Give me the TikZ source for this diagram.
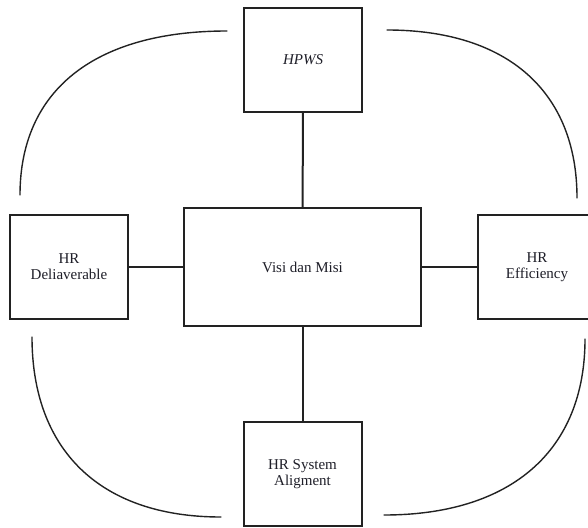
\documentclass[tikz,border=0pt]{standalone}
\usepackage{fontspec}
\setmainfont{Liberation Serif}
\usetikzlibrary{positioning}
\definecolor{hrInk}{HTML}{1E1E28}
\definecolor{hrLine}{HTML}{222222}
\tikzset{
  unit/.style={
    draw=hrLine, line width=2pt, fill=white, inner sep=3pt,
    align=center, text=hrInk, font=\fontsize{15}{16}\selectfont,
    minimum width=118pt, minimum height=104pt
  },
  core/.style={unit, minimum width=237pt, minimum height=118pt},
  link/.style={line width=2pt, draw=hrLine},
  loop/.style={line width=1.4pt, draw=hrLine, line cap=round},
}

\begin{document}
\begin{tikzpicture}[x=1pt, y=-1pt]
  \useasboundingbox (0,0) rectangle (588,527);
  \clip (0,0) rectangle (588,527);

  \node[unit] (hpws)  at (303,60)  {\textit{HPWS}};
  \node[core] (visi)  at (302.5,267) {Visi dan Misi};
  \node[unit] (deliv) at (69,267)  {HR\\Deliaverable};
  \node[unit] (effic) at (537,267) {HR\\Efficiency};
  \node[unit] (align) at (302.5,474) {HR System\\Aligment};

  \draw[link] (hpws)  -- (visi);
  \draw[link] (deliv) -- (visi);
  \draw[link] (visi)  -- (effic);
  \draw[link] (visi)  -- (align);

  % outer loop
  \coordinate (tl1) at (227,31);  \coordinate (tl2) at (20,195);
  \coordinate (tr1) at (387,30);  \coordinate (tr2) at (577,198);
  \coordinate (bl1) at (32,337);  \coordinate (bl2) at (221,517);
  \coordinate (br1) at (585,339); \coordinate (br2) at (384,515);
  \draw[loop] (tl1) .. controls (95,31) and (20,90) .. (tl2);
  \draw[loop] (tr1) .. controls (508,30) and (577,92) .. (tr2);
  \draw[loop] (bl1) .. controls (32,450) and (100,517) .. (bl2);
  \draw[loop] (br1) .. controls (585,450) and (512,515) .. (br2);
\end{tikzpicture}
\end{document}
